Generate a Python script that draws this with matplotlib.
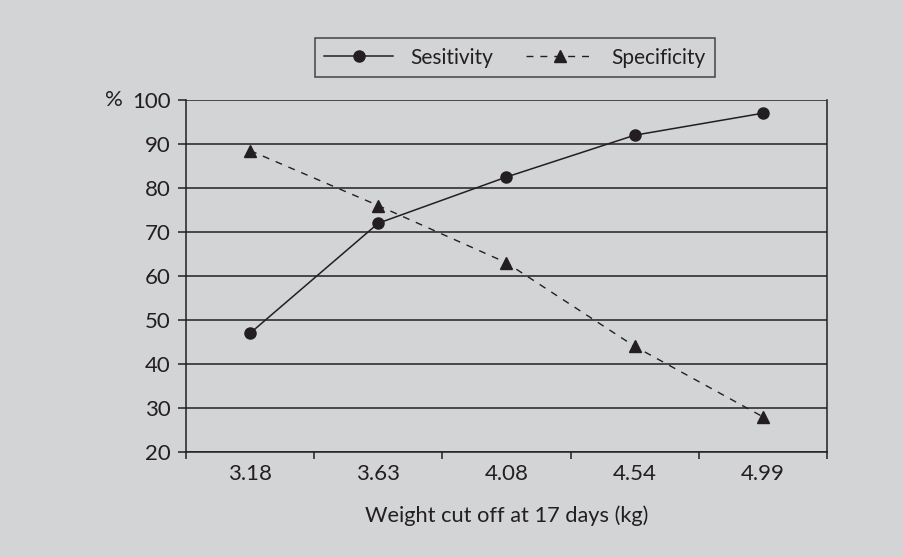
import matplotlib.pyplot as plt
from matplotlib.ticker import FixedLocator, NullFormatter

# weight cut-offs (kg) and the two measures in percent
cutoffs = ["3.18", "3.63", "4.08", "4.54", "4.99"]
sensitivity = [47, 72, 82.5, 92, 97]
specificity = [88.5, 76, 63, 44, 28]

bg = "#d3d4d6"
ink = "#231f20"
fs = 15

plt.rcParams["font.family"] = ["Lato", "DejaVu Sans"]

fig = plt.figure(figsize=(9.04, 5.57), dpi=100, facecolor=bg)
ax = fig.add_axes([186 / 904, 1 - 452 / 557, 641 / 904, 352 / 557], facecolor=bg)

x = list(range(len(cutoffs)))
ax.plot(x, sensitivity, color=ink, lw=1.1, marker="o", ms=8, label="Sesitivity")
ax.plot(x, specificity, color=ink, lw=1.0, ls=(0, (5, 5)), marker="^", ms=8,
        label="Specificity")

ax.set_xlim(-0.5, len(cutoffs) - 0.5)
ax.set_ylim(20, 100)
ax.set_yticks(range(20, 101, 10))
ax.yaxis.grid(True, color=ink, lw=1.1)
ax.set_axisbelow(True)

# category labels sit between tick marks
ax.set_xticks(x)
ax.set_xticklabels(cutoffs)
ax.tick_params(axis="x", which="major", length=0, pad=9)
ax.xaxis.set_minor_locator(FixedLocator([i - 0.5 for i in range(len(cutoffs) + 1)]))
ax.xaxis.set_minor_formatter(NullFormatter())
ax.tick_params(axis="x", which="minor", length=5, color=ink, width=1.1)
ax.tick_params(axis="y", length=6, color=ink, width=1.1, pad=5)
ax.tick_params(labelsize=16, labelcolor=ink)

for side in ["left", "right", "bottom"]:
    ax.spines[side].set_color(ink)
    ax.spines[side].set_linewidth(1.1)
ax.spines["top"].set_visible(False)

ax.set_xlabel("Weight cut off at 17 days (kg)", fontsize=15.7, color=ink, labelpad=15)
fig.text(105 / 904, 1 - 100 / 557, "%", fontsize=16, color=ink, va="center", ha="left")

leg = ax.legend(loc="center", bbox_to_anchor=(515 / 904, 1 - 57.5 / 557),
                bbox_transform=fig.transFigure, ncol=2, fontsize=fs,
                frameon=True, fancybox=False, handlelength=3.3,
                columnspacing=1.6, borderpad=0.45)
leg.get_frame().set_edgecolor(ink)
leg.get_frame().set_facecolor(bg)
leg.get_frame().set_linewidth(1.1)
for t in leg.get_texts():
    t.set_color(ink)

fig.savefig("out.png", dpi=100, facecolor=bg)
